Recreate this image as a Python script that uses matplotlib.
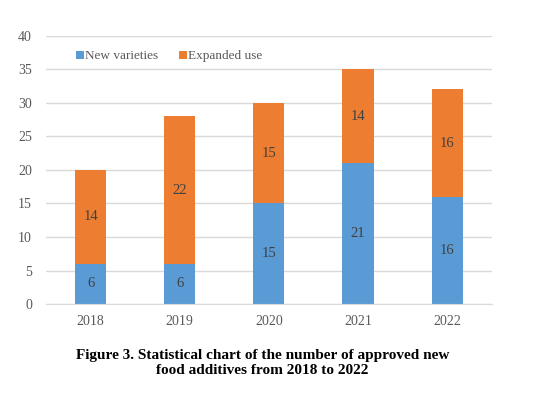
import matplotlib
matplotlib.use("Agg")
import matplotlib.pyplot as plt
import numpy as np

years = ["2018", "2019", "2020", "2021", "2022"]
new_varieties = [6, 6, 15, 21, 16]
expanded_use = [14, 22, 15, 14, 16]
series_names = ["New varieties", "Expanded use"]
yticks = [0, 5, 10, 15, 20, 25, 30, 35, 40]

blue = "#5B9BD5"
orange = "#ED7D31"
text_col = "#595959"

plt.rcParams['font.family'] = ['Liberation Serif', 'DejaVu Serif']

fig = plt.figure(figsize=(5.41, 3.98), dpi=100)
ax = fig.add_axes([0.085, 0.236, 0.824, 0.674])

x = np.arange(len(years))
w = 0.35
b1 = ax.bar(x, new_varieties, w, color=blue, label=series_names[0], zorder=3)
b2 = ax.bar(x, expanded_use, w, bottom=new_varieties, color=orange, label=series_names[1], zorder=3)

for i in range(len(years)):
    ax.text(x[i], new_varieties[i] / 2, str(new_varieties[i]), ha='center', va='center',
            fontsize=10.5, color="#404040", zorder=4)
    ax.text(x[i], new_varieties[i] + expanded_use[i] / 2, str(expanded_use[i]), ha='center',
            va='center', fontsize=10.5, color="#404040", zorder=4)

ax.set_xlim(-0.5, len(years) - 0.5)
ax.set_ylim(0, 40)
ax.set_yticks(yticks)
ax.set_xticks(x)
ax.set_xticklabels(years)
ax.tick_params(axis='both', length=0, labelsize=10, colors=text_col)
ax.tick_params(axis='y', pad=10)
ax.tick_params(axis='x', pad=8)
ax.yaxis.grid(True, color="#D9D9D9", linewidth=1, zorder=0)
for s in ['top', 'right', 'left']:
    ax.spines[s].set_visible(False)
ax.spines['bottom'].set_color("#D9D9D9")
ax.spines['bottom'].set_zorder(5)

leg = ax.legend(loc='upper left', bbox_to_anchor=(0.04, 0.99), ncol=2, frameon=False,
                fontsize=9.5, handlelength=0.6, handleheight=0.6, handletextpad=0.1,
                columnspacing=1.6, labelcolor=text_col)

fig.text(0.485, 0.088, "Figure 3. Statistical chart of the number of approved new\nfood additives from 2018 to 2022",
         ha='center', va='center', fontsize=11, fontweight='bold', color='black', linespacing=1.25)

fig.savefig("out.png", dpi=100)
